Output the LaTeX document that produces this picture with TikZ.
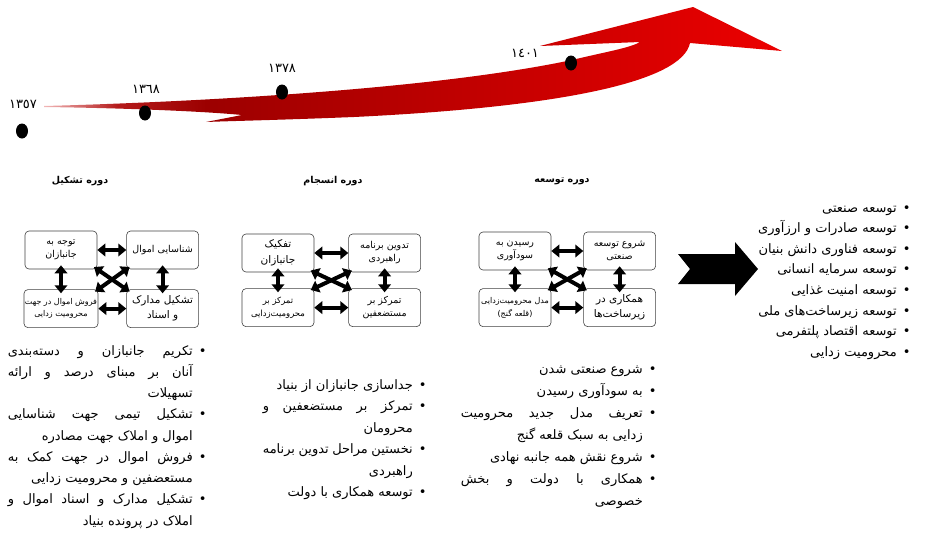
\documentclass[tikz,border=0pt]{standalone}
\usepackage{fontspec}
\usetikzlibrary{positioning,arrows.meta,shapes.geometric}
\newfontfamily\arabicfont[Script=Arabic]{DejaVu Sans}
\TeXXeTstate=1
\definecolor{tailred}{HTML}{F2B8B8}
\definecolor{midred}{HTML}{B41A1A}
\definecolor{deepred}{HTML}{9C0000}
\definecolor{brightred}{HTML}{EC0000}
\pgfdeclarehorizontalshading{redsweep}{100bp}{color(0bp)=(tailred); color(25bp)=(tailred); color(30bp)=(midred); color(36bp)=(deepred); color(75bp)=(brightred); color(100bp)=(brightred)}
\newcommand\rtl[1]{\beginR#1\endR}
\newdimen\colw
% list rows: #1 bullet or empty, #2 text (already in \beginR..\endR)
\newcommand\jrow[2]{\hbox{\hbox to \colw{#2}\hbox to 12pt{\hskip 6pt#1\hss}}}
\newcommand\rrow[2]{\hbox{\hbox to \colw{\hfil#2}\hbox to 12pt{\hskip 6pt#1\hss}}}
\newcommand\bul{\textbullet}
\begin{document}
\begin{tikzpicture}[x=1pt,y=-1pt,
  qbox/.style={draw=black!75, line width=.6pt, rounded corners=4pt, minimum width=72pt, minimum height=38pt, inner sep=1pt, align=center, font=\arabicfont\fontsize{9.5}{13}\selectfont},
  dbl/.style={{Triangle[length=8pt,width=12.5pt]}-{Triangle[length=8pt,width=12.5pt]}, line width=4pt},
  longdbl/.style={dbl, shorten <=-4pt, shorten >=-4pt},
  yeardot/.style={ellipse, fill=black, minimum width=12pt, minimum height=15pt, inner sep=0pt},
  yearlbl/.style={font=\arabicfont\fontsize{13}{15}\selectfont, inner sep=0pt},
  period/.style={font=\arabicfont\bfseries\fontsize{9.5}{12}\selectfont, inner sep=0pt},
  blist/.style={inner sep=0pt, anchor=base east}]
\useasboundingbox (0,0) rectangle (926,533);

% time line
\shade[shading=redsweep] (44,106) .. controls (160,103) and (420,92) .. (572,60)
  .. controls (605,52) and (630,48) .. (640,42) -- (540,46) -- (693,7) -- (782,51) -- (690,43)
  .. controls (682,82) and (560,107) .. (354,117) .. controls (280,120) and (230,121) .. (206,122)
  -- (242,115) .. controls (200,111) and (120,108) .. (44,107) -- cycle;
\node[yeardot] (d1) at (22,131) {};
\node[yeardot] (d2) at (145,113) {};
\node[yeardot] (d3) at (282,92) {};
\node[yeardot] (d4) at (571,63) {};
\node[yearlbl] (y1) at (23,104) {١٣٥٧};
\node[yearlbl] (y2) at (146,89) {١٣٦٨};
\node[yearlbl] (y3) at (282,68) {١٣٧٨};
\node[yearlbl] (y4) at (525,53) {١٤٠١};

% periods
\node[period] (t1) at (80,181) {\rtl{دوره تشکیل}};
\node[period] (t2) at (333,181) {\rtl{دوره انسجام}};
\node[period] (t3) at (562,181) {\rtl{دوره توسعه}};

% boxes
\node[qbox] (a1) at (61,250) {\rtl{توجه به}\\\rtl{جانبازان}};
\node[qbox, right=29pt of a1] (a2) {\rtl{شناسایی اموال}};
\node[qbox, below=20pt of a1, font=\arabicfont\fontsize{8}{12}\selectfont] (a3) {\rtl{فروش اموال در جهت}\\\rtl{محرومیت زدایی}};
\node[qbox, below=20pt of a2, font=\arabicfont\fontsize{10.5}{15}\selectfont] (a4) {\rtl{تشکیل مدارک}\\\rtl{و اسناد}};

\node[qbox, font=\arabicfont\fontsize{10.5}{16}\selectfont] (b1) at (278,253) {\rtl{تفکیک}\\\rtl{جانبازان}};
\node[qbox, right=34pt of b1] (b2) {\rtl{تدوین برنامه}\\\rtl{راهبردی}};
\node[qbox, below=16pt of b1, font=\arabicfont\fontsize{8.5}{13}\selectfont] (b3) {\rtl{تمرکز بر}\\\rtl{محرومیت‌زدایی}};
\node[qbox, below=16pt of b2] (b4) {\rtl{تمرکز بر}\\\rtl{مستضعفین}};

\node[qbox] (c1) at (515,251) {\rtl{رسیدن به}\\\rtl{سودآوری}};
\node[qbox, right=32pt of c1] (c2) {\rtl{شروع توسعه}\\\rtl{صنعتی}};
\node[qbox, below=18pt of c1, font=\arabicfont\fontsize{8}{13}\selectfont] (c3) {\rtl{مدل محرومیت‌زدایی}\\\rtl{(قلعه گنج)}};
\node[qbox, below=18pt of c2, font=\arabicfont\fontsize{10.5}{15}\selectfont] (c4) {\rtl{همکاری در}\\\rtl{زیرساخت‌ها}};

\foreach \g in {a,b,c} {
  \draw[dbl] (\g1) -- (\g2);
  \draw[dbl] (\g3) -- (\g4);
  \draw[longdbl] (\g1) -- (\g3);
  \draw[longdbl] (\g2) -- (\g4);
  \draw[longdbl] (\g1.south east) -- (\g4.north west);
  \draw[longdbl] (\g2.south west) -- (\g3.north east);
}

% lists
\node[blist, font=\arabicfont\fontsize{13}{21.25}\selectfont] (l1) at (205,355) {\vtop{\colw=185pt
  \jrow{\bul}{\beginR تکریم جانبازان و دسته‌بندی\endR}
  \jrow{}{\beginR آنان بر مبنای درصد و ارائه\endR}
  \rrow{}{\beginR تسهیلات\endR}
  \jrow{\bul}{\beginR تشکیل تیمی جهت شناسایی\endR}
  \rrow{}{\beginR اموال و املاک جهت مصادره\endR}
  \jrow{\bul}{\beginR فروش اموال در جهت کمک به\endR}
  \rrow{}{\beginR مستعضفین و محرومیت زدایی\endR}
  \jrow{\bul}{\beginR تشکیل مدارک و اسناد اموال و\endR}
  \rrow{}{\beginR املاک در پرونده بنیاد\endR}}};
\node[blist, font=\arabicfont\fontsize{13}{21.5}\selectfont] (l2) at (425,389) {\vtop{\colw=150pt
  \rrow{\bul}{\beginR جداسازی جانبازان از بنیاد\endR}
  \jrow{\bul}{\beginR تمرکز بر مستضعفین و\endR}
  \rrow{}{\beginR محرومان\endR}
  \jrow{\bul}{\beginR نخستین مراحل تدوین برنامه\endR}
  \rrow{}{\beginR راهبردی\endR}
  \rrow{\bul}{\beginR توسعه همکاری با دولت\endR}}};
\node[blist, font=\arabicfont\fontsize{13}{22}\selectfont] (l3) at (655,373) {\vtop{\colw=182pt
  \rrow{\bul}{\beginR شروع صنعتی شدن\endR}
  \rrow{\bul}{\beginR به سودآوری رسیدن\endR}
  \jrow{\bul}{\beginR تعریف مدل جدید محرومیت\endR}
  \rrow{}{\beginR زدایی به سبک قلعه گنج\endR}
  \rrow{\bul}{\beginR شروع نقش همه جانبه نهادی\endR}
  \jrow{\bul}{\beginR همکاری با دولت و بخش\endR}
  \rrow{}{\beginR خصوصی\endR}}};

% goals
\fill (678,254) -- (735,254) -- (735,242) -- (758,269) -- (735,296) -- (735,284) -- (678,284) -- (690,269) -- cycle;
\node[blist, font=\arabicfont\fontsize{13}{20.6}\selectfont] (l4) at (909,212) {\vtop{\colw=150pt
  \rrow{\bul}{\beginR توسعه صنعتی\endR}
  \rrow{\bul}{\beginR توسعه صادرات و ارزآوری\endR}
  \rrow{\bul}{\beginR توسعه فناوری دانش بنیان\endR}
  \rrow{\bul}{\beginR توسعه سرمایه انسانی\endR}
  \rrow{\bul}{\beginR توسعه امنیت غذایی\endR}
  \rrow{\bul}{\beginR توسعه زیرساخت‌های ملی\endR}
  \rrow{\bul}{\beginR توسعه اقتصاد پلتفرمی\endR}
  \rrow{\bul}{\beginR محرومیت زدایی\endR}}};
\end{tikzpicture}
\end{document}
